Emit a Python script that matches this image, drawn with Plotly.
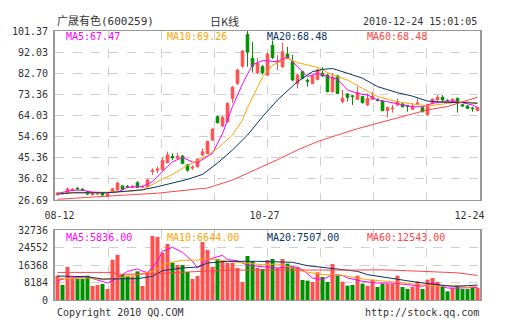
import plotly.graph_objects as go

# ---------------- data ----------------
opens = [29.0, 29.8, 29.8, 31.0, 31.9, 31.5, 30.3, 29.0, 29.3, 29.8,
         28.4, 30.0, 31.1, 32.9, 32.7, 32.4, 34.3, 32.4, 32.6, 39.3,
         39.9, 40.0, 43.2, 46.0, 45.2, 46.1, 42.2, 40.8, 41.4, 46.6,
         47.3, 53.2, 63.5, 59.4, 61.3, 71.6, 78.3, 85.9, 99.8, 89.3,
         82.9, 85.6, 81.9, 95.0, 87.6, 85.6, 91.2, 87.8, 78.2, 83.4,
         79.6, 78.2, 80.0, 82.7, 81.9, 74.6, 81.5, 70.2, 73.5, 72.7,
         71.2, 72.4, 68.7, 71.2, 71.0, 70.4, 66.2, 67.1, 68.7, 69.1,
         68.3, 66.8, 69.2, 67.5, 64.3, 69.4, 70.9, 72.1, 70.7, 70.0,
         71.6, 68.8, 68.2, 67.3, 66.2]
highs = [30.2, 30.3, 32.2, 31.9, 32.3, 31.9, 30.6, 30.0, 30.2, 30.0,
         29.8, 32.0, 34.8, 33.2, 33.3, 33.2, 35.0, 33.3, 36.0, 40.7,
         41.5, 45.5, 48.0, 47.3, 47.4, 46.6, 42.6, 42.0, 45.2, 49.5,
         53.0, 58.5, 64.0, 63.8, 69.8, 77.0, 84.5, 93.0, 101.37, 96.5,
         89.5, 86.3, 92.0, 97.2, 90.8, 96.2, 94.4, 90.8, 82.5, 83.8,
         80.5, 82.0, 84.8, 85.3, 82.3, 82.7, 82.0, 75.3, 73.9, 73.1,
         76.8, 72.8, 73.8, 74.5, 71.6, 70.8, 67.9, 68.7, 71.6, 69.5,
         68.7, 69.4, 71.6, 67.9, 69.1, 71.6, 73.1, 73.1, 71.2, 71.6,
         72.0, 69.1, 68.6, 67.9, 67.9]
lows = [28.7, 29.2, 29.5, 30.5, 31.2, 30.8, 28.8, 28.7, 29.0, 28.6,
        28.0, 29.8, 30.8, 31.0, 31.9, 31.9, 32.0, 32.0, 32.3, 37.8,
        38.5, 39.8, 43.0, 44.5, 44.8, 42.5, 39.2, 40.0, 41.0, 46.2,
        47.0, 52.8, 60.5, 59.0, 61.0, 69.5, 77.5, 85.0, 85.6, 83.0,
        82.5, 82.0, 81.5, 89.0, 84.1, 85.0, 89.0, 79.2, 76.0, 80.0,
        76.8, 77.8, 79.6, 81.2, 74.2, 74.2, 73.4, 69.4, 70.2, 68.7,
        70.9, 69.3, 68.3, 70.9, 70.2, 65.9, 63.2, 65.3, 68.3, 67.6,
        65.7, 66.5, 68.8, 65.4, 63.9, 69.0, 70.6, 70.1, 70.0, 69.7,
        65.3, 67.9, 66.9, 65.7, 65.9]
closes = [29.8, 29.5, 31.6, 31.4, 31.6, 31.0, 29.3, 29.6, 29.8, 28.9,
          29.4, 31.6, 34.1, 31.4, 32.4, 32.7, 32.3, 32.7, 35.5, 39.7,
          40.4, 44.1, 46.6, 45.3, 46.0, 42.9, 39.9, 41.2, 44.7, 48.0,
          52.5, 57.9, 60.9, 63.2, 69.4, 76.5, 84.1, 92.5, 92.0, 85.8,
          87.0, 82.9, 91.2, 89.7, 88.0, 92.2, 89.4, 79.7, 81.9, 80.5,
          79.2, 81.5, 84.1, 81.5, 74.6, 80.9, 73.8, 71.6, 72.1, 72.5,
          74.1, 69.7, 71.6, 72.6, 70.8, 66.2, 67.5, 67.3, 70.1, 67.9,
          68.1, 68.2, 69.5, 65.7, 68.7, 71.2, 72.1, 70.9, 70.5, 71.2,
          69.4, 68.2, 67.2, 67.1, 67.5]
volumes = [11370, 7015, 15434, 10290, 9823, 9823, 11370, 6548, 7015, 7483,
           5145, 18788, 21127, 11850, 11370, 10900, 13400, 6548, 13250, 29930,
           29460, 22140, 26190, 17460, 16370, 16370, 13100, 9820, 11220, 27130,
           23385, 15430, 19180, 18500, 17300, 17300, 15000, 8420, 20580, 18090,
           15000, 14500, 18710, 19180, 15000, 19180, 17000, 15430, 15430, 9350,
           9040, 8420, 12940, 10760, 8420, 16840, 11380, 8580, 6710, 7020,
           11380, 7640, 6710, 9510, 6080, 7640, 7640, 7640, 11380, 6080,
           5140, 6240, 8730, 5140, 9510, 10290, 8420, 6240, 4050, 5610,
           6710, 5140, 5140, 5610, 5610]

# moving-average lines, sampled (bar index, value)
ma5_idx = [0, 3, 5, 7, 10, 12, 14, 17, 19, 21, 23, 25, 27, 28, 29, 31, 33, 35, 37, 39,
           41, 43, 44, 46, 48, 50, 52, 54, 56, 58, 60, 62, 64, 66, 69, 71, 73, 75, 78, 80, 83, 84]
ma5_val = [29.6, 31.0, 31.0, 30.2, 29.9, 30.2, 32.3, 32.6, 34.8, 39.2, 43.6, 45.5, 43.5, 43.2,
           44.5, 47.3, 56.0, 68.0, 78.0, 86.5, 88.3, 88.0, 87.8, 90.0, 85.6, 81.2, 82.7, 81.5,
           80.0, 75.3, 73.8, 73.1, 70.9, 70.1, 68.7, 67.9, 67.9, 69.4, 70.4, 70.1, 68.7, 67.6]
ma10_idx = [0, 5, 10, 14, 17, 19, 21, 23, 26, 28, 30, 32, 35, 37, 38, 40, 41, 43, 46, 48,
            51, 52, 55, 58, 61, 64, 68, 71, 74, 78, 81, 84]
ma10_val = [29.6, 30.0, 30.4, 30.4, 31.1, 33.5, 36.0, 38.0, 42.0, 44.0, 46.5, 49.5, 55.4, 62.0,
            67.5, 76.5, 81.0, 86.3, 89.3, 87.4, 85.9, 85.3, 81.9, 79.7, 76.0, 72.4, 70.1, 69.1,
            68.2, 69.4, 70.1, 69.7]
ma20_idx = [0, 3, 10, 13, 17, 20, 23, 26, 29, 32, 35, 38, 41, 44, 48, 51, 53, 55, 58, 61,
            64, 68, 71, 74, 78, 81, 84]
ma20_val = [29.3, 29.9, 29.9, 30.4, 31.2, 32.6, 34.3, 35.8, 38.0, 43.0, 48.8, 55.4, 63.5, 70.9,
            79.0, 83.4, 84.4, 84.8, 82.7, 80.5, 76.8, 74.1, 72.6, 70.4, 69.8, 69.8, 69.4]
ma60_idx = [0, 6, 13, 20, 26, 30, 35, 40, 44, 48, 52, 56, 60, 64, 68, 71, 74, 78, 81, 84]
ma60_val = [27.0, 27.7, 28.8, 29.7, 31.0, 32.0, 35.5, 40.3, 44.5, 48.8, 52.5, 55.4, 58.2, 60.6,
            63.0, 65.0, 66.5, 68.0, 70.0, 72.1]

vma5_idx = [0, 2, 6, 9, 10, 12, 14, 16, 18, 20, 21, 23, 25, 27, 28, 30, 33, 34, 36, 38,
            41, 44, 47, 49, 51, 53, 55, 57, 58, 61, 64, 67, 70, 73, 75, 78, 80, 83, 84]
vma5_val = [9040, 10290, 10760, 8730, 7950, 10290, 13400, 14500, 12630, 18090, 22760, 24640,
            22290, 18090, 15000, 18860, 20890, 18860, 18400, 16210, 15750, 14970, 15750, 14180,
            10290, 9510, 11850, 11500, 10290, 8730, 7950, 7950, 7170, 6390, 7950, 5610, 5600,
            5920, 5836]
vma10_idx = [0, 3, 6, 9, 12, 16, 19, 22, 25, 28, 30, 34, 38, 41, 44, 47, 49, 53, 56, 60,
             62, 66, 69, 73, 76, 79, 82, 84]
vma10_val = [9980, 10290, 10290, 9510, 10290, 11850, 13400, 17300, 18550, 18700, 19330, 18090,
             17300, 16520, 16800, 15000, 13400, 11850, 11850, 10290, 9510, 8730, 7950, 7170,
             6390, 6860, 5920, 6644]
vma20_idx = [0, 6, 9, 16, 19, 21, 25, 28, 30, 34, 40, 47, 50, 53, 56, 60, 62, 66, 69, 72,
             76, 79, 82, 84]
vma20_val = [11220, 10900, 9820, 9980, 11060, 13720, 14970, 15430, 17300, 18090, 18090, 17610,
             16060, 15270, 14500, 13400, 11850, 10290, 9200, 8270, 7170, 6390, 6700, 7000]
vma60_idx = [0, 11, 12, 18, 20, 25, 30, 35, 60, 65, 70, 75, 80, 84]
vma60_val = [12900, 12900, 12000, 12000, 12300, 13000, 13600, 14000, 14000, 14100, 13700,
             13300, 12700, 11500]

price_ticks = [26.69, 36.02, 45.36, 54.69, 64.03, 73.36, 82.70, 92.03, 101.37]
price_tick_text = ["26.69", "36.02", "45.36", "54.69", "64.03", "73.36", "82.70", "92.03", "101.37"]
vol_ticks = [0, 8184, 16368, 24552, 32736]
vol_tick_text = ["0", "8184", "16368", "24552", "32736"]
date_labels = ["08-12", "10-27", "12-24"]
date_label_idx = [0, 41, 82]

ma_names = ["MA5", "MA10", "MA20", "MA60"]
ma_price_last = ["67.47", "69.26", "68.48", "68.48"]
ma_vol_last = ["5836.00", "6644.00", "7507.00", "12543.00"]

stock_title = "广晟有色(600259)"
period_title = "日K线"
timestamp = "2010-12-24 15:01:05"
copyright_left = "Copyright 2010 QQ.COM"
copyright_right = "http://stock.qq.com"

# ---------------- styles ----------------
W, H = 505, 330
UP, DOWN = "#FF5050", "#009100"
MA_COLORS = ["#FF00FF", "#FFA500", "#0A3466", "#FF4545"]
MONO = "DejaVu Sans Mono"
TXT = "#333333"
GRID = "#CFCFCF"
FRAME = "#999999"

def px(x):
    return x / W

def py(y):
    return 1 - y / H

n = len(closes)
idx = list(range(n))

fig = go.Figure()
fig.add_trace(go.Candlestick(
    x=idx, open=opens, high=highs, low=lows, close=closes,
    increasing=dict(line=dict(color=UP, width=1), fillcolor=UP),
    decreasing=dict(line=dict(color=DOWN, width=1), fillcolor=DOWN),
    whiskerwidth=0, xaxis="x", yaxis="y", showlegend=False, hoverinfo="skip"))

for xs, ys, c in zip([ma5_idx, ma10_idx, ma20_idx, ma60_idx],
                     [ma5_val, ma10_val, ma20_val, ma60_val], MA_COLORS):
    fig.add_trace(go.Scatter(x=xs, y=ys, mode="lines", line=dict(color=c, width=1),
                             xaxis="x", yaxis="y", showlegend=False, hoverinfo="skip"))

bar_colors = [UP if c >= o else DOWN for o, c in zip(opens, closes)]
fig.add_trace(go.Bar(x=idx, y=volumes, marker=dict(color=bar_colors, line=dict(width=0)),
                     xaxis="x2", yaxis="y2", showlegend=False, hoverinfo="skip"))

for xs, ys, c in zip([vma5_idx, vma10_idx, vma20_idx, vma60_idx],
                     [vma5_val, vma10_val, vma20_val, vma60_val], MA_COLORS):
    fig.add_trace(go.Scatter(x=xs, y=ys, mode="lines", line=dict(color=c, width=1),
                             xaxis="x2", yaxis="y2", showlegend=False, hoverinfo="skip"))

xdom = [px(55), px(480)]
common_x = dict(range=[-0.5, n - 0.5], domain=xdom, showline=True, linecolor=FRAME,
                linewidth=1, mirror=True, zeroline=False, showgrid=False, automargin=False,
                minor=dict(tick0=-0.5, dtick=n / 8, showgrid=True, gridcolor=GRID,
                           griddash="dash", gridwidth=1, ticks=""),
                fixedrange=True)
common_y = dict(showline=True, linecolor=FRAME, linewidth=2, mirror=True, zeroline=False,
                showgrid=True, gridcolor=GRID, griddash="dash", gridwidth=1, automargin=False,
                tickfont=dict(family=MONO, size=10, color=TXT), ticks="outside",
                ticklen=3, tickcolor="rgba(0,0,0,0)", fixedrange=True)

annotations = [
    dict(text=stock_title, x=px(55), y=py(21), xanchor="left", yanchor="middle",
         font=dict(family=MONO + ", Noto Sans CJK SC", size=11, color=TXT)),
    dict(text=period_title, x=px(208), y=py(21), xanchor="left", yanchor="middle",
         font=dict(family="Noto Sans CJK SC", size=11, color=TXT)),
    dict(text=timestamp, x=px(479), y=py(22), xanchor="right", yanchor="middle",
         font=dict(family=MONO, size=10, color=TXT)),
    dict(text=copyright_left, x=px(55), y=py(312), xanchor="left", yanchor="middle",
         font=dict(family=MONO, size=10, color=TXT)),
    dict(text=copyright_right, x=px(481), y=py(312), xanchor="right", yanchor="middle",
         font=dict(family=MONO, size=10, color=TXT)),
]
label_x = [64, 165, 265, 365]
for name, pv, vv, c, lx in zip(ma_names, ma_price_last, ma_vol_last, MA_COLORS, label_x):
    annotations.append(dict(text=f"{name}:{pv}", x=px(lx), y=py(37), xanchor="left",
                            yanchor="middle", font=dict(family=MONO, size=10, color=c)))
    annotations.append(dict(text=f"{name}:{vv}", x=px(lx), y=py(237), xanchor="left",
                            yanchor="middle", font=dict(family=MONO, size=10, color=c)))
for a in annotations:
    a.update(xref="paper", yref="paper", showarrow=False)

fig.update_layout(
    width=W, height=H, margin=dict(l=0, r=0, t=0, b=0, autoexpand=False),
    paper_bgcolor="white", plot_bgcolor="white",
    boxgap=0.25, bargap=0.2,
    xaxis=dict(common_x, anchor="y", tickmode="array", tickvals=date_label_idx,
               ticktext=date_labels, ticks="outside", ticklen=6,
               tickcolor="rgba(0,0,0,0)", ticklabelshift=2,
               tickfont=dict(family=MONO, size=10, color=TXT),
               rangeslider=dict(visible=False)),
    yaxis=dict(common_y, domain=[py(200), py(31)], range=[price_ticks[0], price_ticks[-1]],
               tickmode="array", tickvals=price_ticks, ticktext=price_tick_text, anchor="x"),
    xaxis2=dict(common_x, anchor="y2", matches="x", showticklabels=False, ticks=""),
    yaxis2=dict(common_y, domain=[py(300), py(230)], range=[vol_ticks[0], vol_ticks[-1]],
                tickmode="array", tickvals=vol_ticks, ticktext=vol_tick_text, anchor="x2"),
    annotations=annotations,
)

fig.write_html("out.html")
